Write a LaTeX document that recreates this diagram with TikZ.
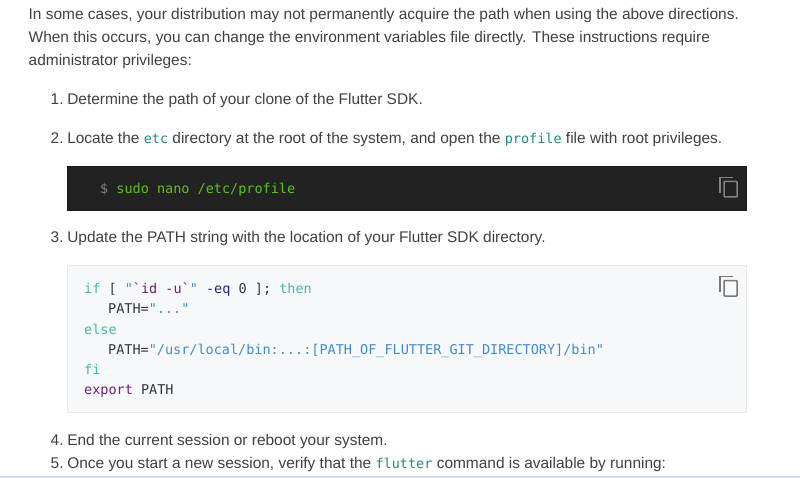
\documentclass[tikz,border=0pt]{standalone}
\usepackage{fontspec}
\setmainfont{Liberation Sans}
\setmonofont{DejaVu Sans Mono}
\usetikzlibrary{positioning}
\definecolor{bodytext}{RGB}{64, 64, 64}
\definecolor{inlinecode}{RGB}{30, 140, 125}
\definecolor{darkbg}{RGB}{34, 34, 34}
\definecolor{darkline}{RGB}{25, 25, 25}
\definecolor{sudogreen}{RGB}{92, 196, 18}
\definecolor{promptgray}{RGB}{130, 130, 130}
\definecolor{lightbg}{RGB}{247, 248, 250}
\definecolor{lightline}{RGB}{232, 234, 237}
\definecolor{kwteal}{RGB}{70, 185, 165}
\definecolor{strblue}{RGB}{66, 139, 202}
\definecolor{cmdpurple}{RGB}{110, 30, 120}
\definecolor{opnavy}{RGB}{30, 40, 130}
\definecolor{codetext}{RGB}{50, 55, 65}
\definecolor{icongray}{RGB}{120, 120, 120}
\definecolor{edgeblue}{RGB}{212, 220, 238}
\newcommand{\ic}[1]{{\fontsize{13.5}{16}\ttfamily\textcolor{inlinecode}{#1}}}
\newcommand{\num}[1]{#1\hspace{-2pt} }

\begin{document}
\begin{tikzpicture}[x=1pt, y=-1pt,
  para/.style={anchor=base west, inner sep=0pt, text=bodytext, font=\fontsize{15.45}{18}\selectfont},
  code/.style={anchor=base west, inner sep=0pt, text=codetext, font=\fontsize{13.5}{16}\ttfamily},
  codebox/.style={anchor=north west, inner sep=0pt, outer sep=0pt, minimum width=679.5pt, line width=0.8pt},
]
\useasboundingbox (0,0) rectangle (800,478);
\fill[white] (0,0) rectangle (800,478);

% Intro
\node[para] (introa) at (28.5,19.5) {In some cases, your distribution may not permanently acquire the path when using the above directions.};
\node[para] (introb) at (28.5,42.7) {When this occurs, you can change the environment variables file directly. These instructions require};
\node[para] (introc) at (28.5,66) {administrator privileges:};

% Steps 1 and 2
\node[para] (stepa) at (50.5,105) {\num{1.}Determine the path of your clone of the Flutter SDK.};
\node[para] (stepb) at (50.5,143.7) {\num{2.}Locate the \ic{etc} directory at the root of the system, and open the \ic{profile} file with root privileges.};

% Dark box
\node[codebox, minimum height=43.8pt, fill=darkbg, draw=darkline] (darkbox) at (67,166.2) {};
\node[code, text=sudogreen] (sudo) at (100,193.5) {\textcolor{promptgray}{\$} sudo nano /etc/profile};

% Step 3
\node[para] (stepc) at (50.5,243) {\num{3.}Update the PATH string with the location of your Flutter SDK directory.};

% Light box
\node[codebox, minimum height=147.5pt, fill=lightbg, draw=lightline] (lightbox) at (67,265.2) {};
\node[code] (linea) at (84,293) {\textcolor{kwteal}{if} [ \textcolor{strblue}{"}\textcolor{cmdpurple}{`id -u`}\textcolor{strblue}{"} \textcolor{opnavy}{-eq} 0 ]; \textcolor{kwteal}{then}};
\node[code] (lineb) at (108,313.5) {PATH=\textcolor{strblue}{"..."}};
\node[code, text=kwteal] (linec) at (84,334) {else};
\node[code] (lined) at (108,354) {PATH=\textcolor{strblue}{"/usr/local/bin:...:[PATH\_OF\_FLUTTER\_GIT\_DIRECTORY]/bin"}};
\node[code, text=kwteal] (linee) at (84,374) {fi};
\node[code] (linef) at (84,394.7) {\textcolor{cmdpurple}{export} PATH};

% Copy icons
\foreach \iy/\icol in {0/promptgray, 99/icongray} {
  \draw[\icol, line width=1.5pt] (733,177.5+\iy) -- (720,177.5+\iy) -- (720,193+\iy);
  \draw[\icol, line width=1.5pt, rounded corners=0.8pt] (724,181.5+\iy) rectangle (737,197+\iy);
}

% Steps 4 and 5
\node[para] (stepd) at (50.5,445) {\num{4.}End the current session or reboot your system.};
\node[para] (stepe) at (50.5,468) {\num{5.}Once you start a new session, verify that the \ic{flutter} command is available by running:};

\fill[edgeblue] (0,476) rectangle (800,478);
\end{tikzpicture}
\end{document}
